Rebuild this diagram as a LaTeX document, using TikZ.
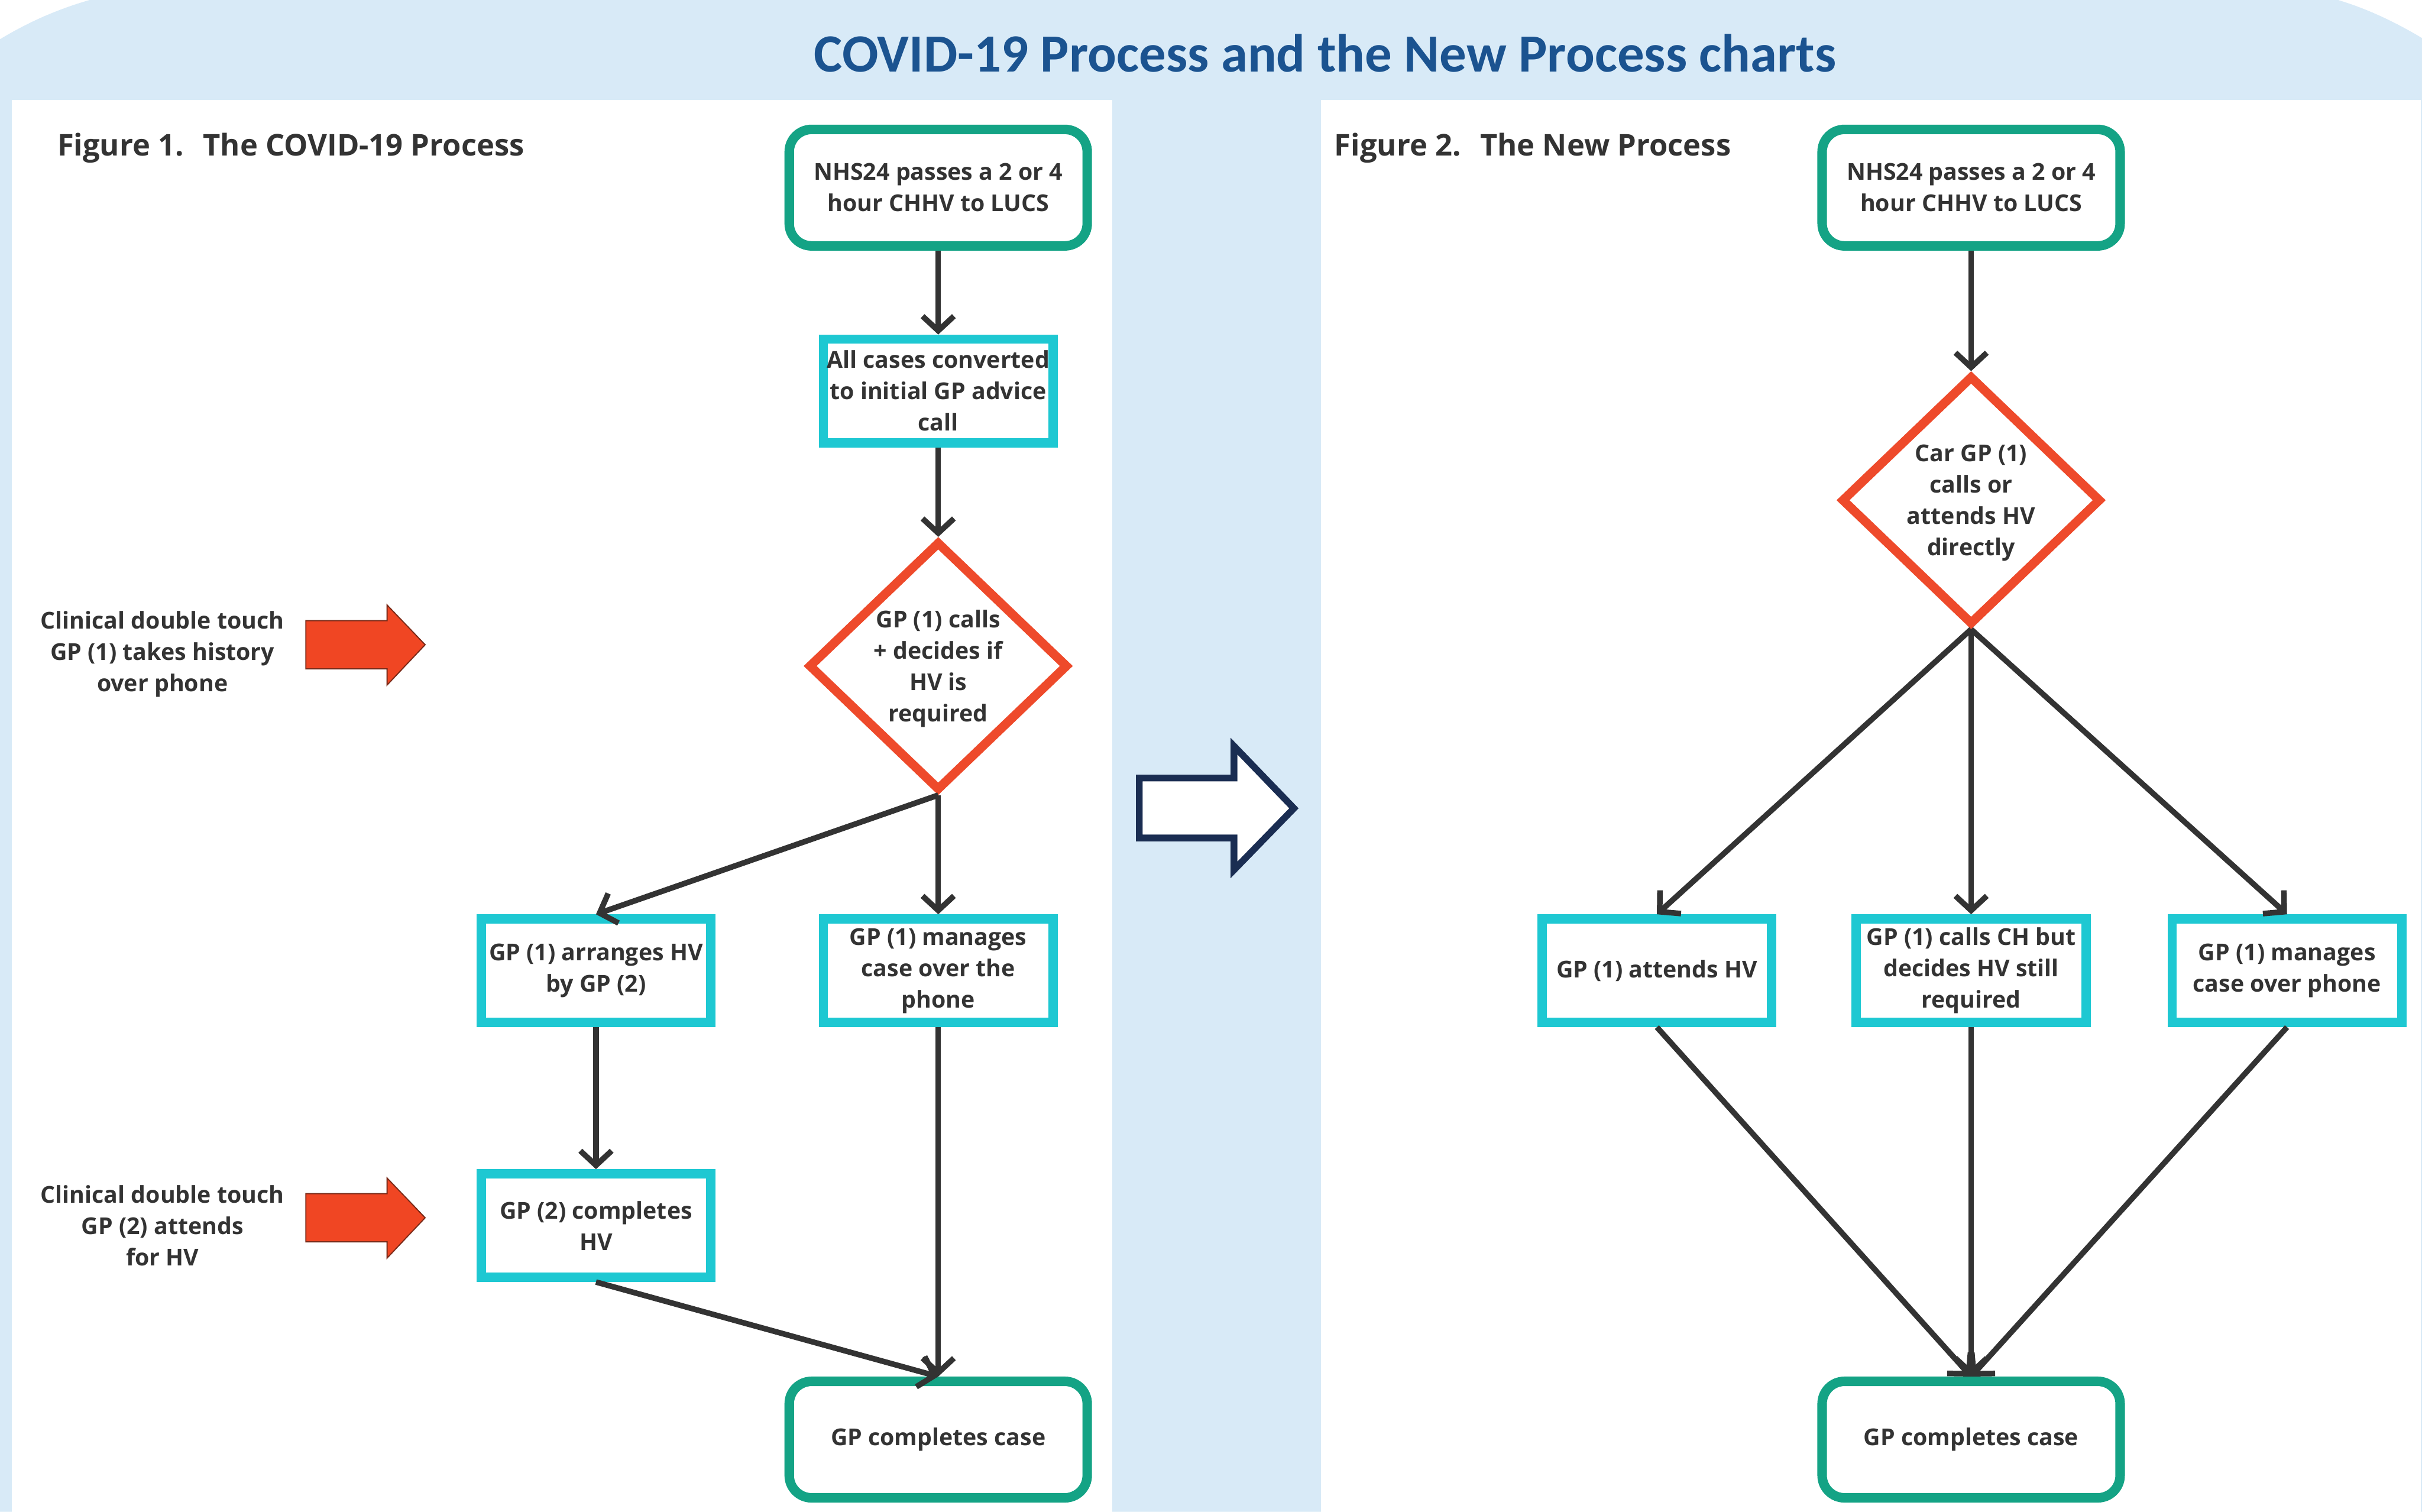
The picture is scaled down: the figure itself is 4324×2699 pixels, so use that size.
\documentclass[tikz,border=0pt]{standalone}
\usepackage{fontspec}
\setmainfont{Open Sans}
\newfontfamily\titlefont{Carlito}
\usetikzlibrary{arrows.meta,shapes.geometric}
\definecolor{bgblue}{HTML}{D8EAF7}
\definecolor{startgreen}{HTML}{14A385}
\definecolor{stepcyan}{HTML}{1EC8D2}
\definecolor{decred}{HTML}{EE4A2B}
\definecolor{ink}{HTML}{333333}
\definecolor{titleblue}{HTML}{1B5390}
\definecolor{navy}{HTML}{1A2D52}
\definecolor{flagred}{HTML}{F04623}
\definecolor{flagedge}{HTML}{7A2A18}

\begin{document}
\begin{tikzpicture}[x=0.1mm,y=-0.1mm,
  txt/.style={font=\bfseries\fontsize{4.15mm}{5.6mm}\selectfont, text=ink, align=center},
  terminal/.style={txt, draw=startgreen, line width=1.7mm, rounded corners=4mm,
    minimum width=53.2mm, minimum height=20.8mm, fill=white, inner sep=0pt},
  stepbox/.style={txt, draw=stepcyan, line width=1.65mm,
    minimum width=41mm, minimum height=18.5mm, fill=white, inner sep=0pt},
  decision/.style={draw=decred, line width=1.6mm, diamond,
    minimum width=46.4mm, minimum height=44.5mm, inner sep=0pt, fill=white},
  flow/.style={draw=ink, line width=1mm, -{Straight Barb[length=2.6mm,width=5.6mm]}},
  heading/.style={font=\bfseries\fontsize{5.35mm}{6.4mm}\selectfont, text=ink, anchor=base west},
  flag/.style={fill=flagred, draw=flagedge, line width=0.2mm},
]
% page and backdrop
\fill[white] (0,0) rectangle (4324,2699);
\fill[bgblue] (0,70) .. controls (55,37) and (105,16) .. (160,0) -- (4174,0)
  .. controls (4224,15) and (4274,38) .. (4324,68) -- (4324,2699) -- (0,2699) -- cycle;
\fill[white] (21,178) rectangle (1986,2699);
\fill[white] (2358,178) rectangle (4322,2699);
\useasboundingbox (0,0) rectangle (4324,2699);

% title and panel headings
\node[font=\titlefont\bfseries\fontsize{9.6mm}{11mm}\selectfont, text=titleblue, anchor=base]
  (title) at (2366,128) {COVID-19 Process and the New Process charts};
\node[heading] (h1) at (90,278) {Figure 1.\hspace{0.3em} The COVID-19 Process};
\node[heading] (h2) at (2370,278) {Figure 2.\hspace{0.3em} The New Process};

% ---- Figure 1: the COVID-19 process ----
\node[terminal] (s1) at (1675,335) {NHS24 passes a 2 or 4\\hour CHHV to LUCS};
\node[stepbox]  (a1) at (1675,698) {All cases converted\\to initial GP advice\\call};
\node[decision] (d1) at (1675,1189) {};
\node[txt, yshift=-0.5mm] (d1t) at (d1.center) {GP (1) calls\\+ decides if\\HV is\\required};
\node[stepbox]  (b1) at (1064,1733) {GP (1) arranges HV\\by GP (2)};
\node[stepbox]  (b2) at (1675,1733) {GP (1) manages\\case over the\\phone};
\node[stepbox]  (b3) at (1064,2188) {GP (2) completes\\HV};
\node[terminal] (e1) at (1675,2570) {GP completes case};

\draw[flow] (s1.south) -- (a1.north);
\draw[flow] (a1.south) -- (d1.north);
\draw[flow] (d1.south) -- (b1.north);
\draw[flow] (d1.south) -- (b2.north);
\draw[flow] (b1.south) -- (b3.north);
\draw[flow] (b2.south) -- (e1.north);
\draw[flow] (b3.south) -- (e1.north);

% side notes with red pointers
\node[txt, yshift=-0.4mm] (n1) at (290,1164) {Clinical double touch\\GP (1) takes history\\over phone};
\node[txt, yshift=-0.4mm] (n2) at (290,2184) {Clinical double touch\\GP (2) attends\\for HV};
\path[flag] (546,1108) -- (691,1108) -- (691,1080) -- (759,1151) -- (691,1223)
  -- (691,1194) -- (546,1194) -- cycle;
\path[flag] (546,2131) -- (691,2131) -- (691,2103) -- (759,2174) -- (691,2246)
  -- (691,2217) -- (546,2217) -- cycle;

% outline arrow between the two panels
\path[fill=white, draw=navy, line width=1.2mm, line join=miter]
  (2034,1389) -- (2203,1389) -- (2203,1332) -- (2310,1443) -- (2203,1553)
  -- (2203,1496) -- (2034,1496) -- cycle;

% ---- Figure 2: the new process ----
\node[terminal] (s2) at (3519,335) {NHS24 passes a 2 or 4\\hour CHHV to LUCS};
\node[decision] (d2) at (3519,893) {};
\node[txt, yshift=-0.5mm] (d2t) at (d2.center) {Car GP (1)\\calls or\\attends HV\\directly};
\node[stepbox]  (r1) at (2958,1733) {GP (1) attends HV};
\node[stepbox]  (r2) at (3519,1733) {GP (1) calls CH but\\decides HV still\\required};
\node[stepbox]  (r3) at (4083,1733) {GP (1) manages\\case over phone};
\node[terminal] (e2) at (3519,2570) {GP completes case};

\draw[flow] (s2.south) -- (d2.north);
\draw[flow] (d2.south) -- (r1.north);
\draw[flow] (d2.south) -- (r2.north);
\draw[flow] (d2.south) -- (r3.north);
\draw[flow] (r1.south) -- (e2.north);
\draw[flow] (r2.south) -- (e2.north);
\draw[flow] (r3.south) -- (e2.north);
\end{tikzpicture}
\end{document}
